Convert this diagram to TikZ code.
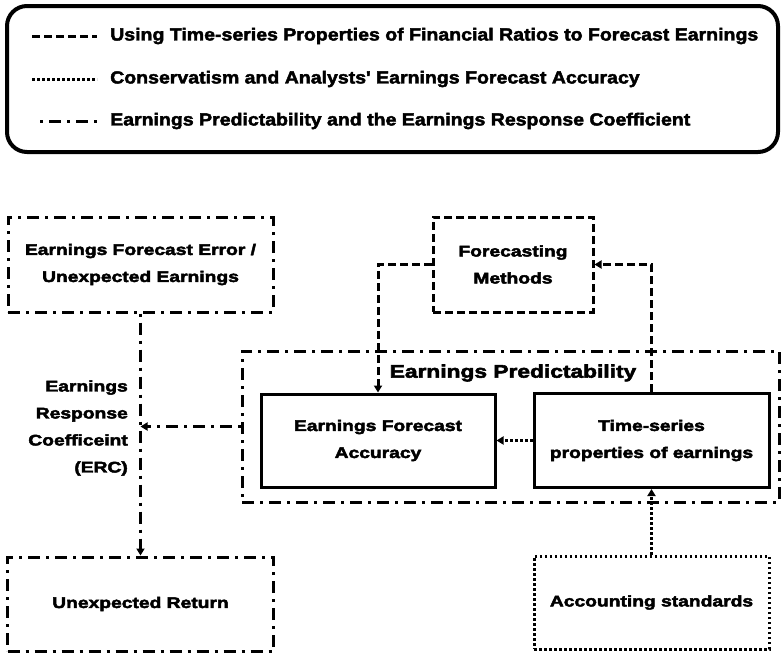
\documentclass[tikz,border=0pt]{standalone}
\usepackage{fontspec}
\setmainfont{Liberation Sans}[FakeStretch=1.25, BoldFeatures={FakeBold=3}]
\newfontfamily\legendfamily{Liberation Sans}[FakeStretch=1.115, BoldFeatures={FakeBold=2.5}]
\usetikzlibrary{arrows.meta}

\newcommand{\boxfont}{\fontsize{15.4pt}{27pt}\selectfont\bfseries}
\newcommand{\titlefont}{\fontsize{18.2pt}{22pt}\selectfont\bfseries}
\newcommand{\keyfont}{\legendfamily\fontsize{17.5pt}{21pt}\selectfont\bfseries}

\tikzstyle{legendbox} = [rectangle, rounded corners=20pt, minimum width=771pt, minimum height=146pt, draw=black, line width=4pt]
\tikzstyle{keytext} = [anchor=west, inner sep=0pt, font=\keyfont]
\tikzstyle{solidbox} = [rectangle, minimum width=235pt, minimum height=93pt, inner sep=0pt, text centered, align=center, draw=black, line width=3pt, font=\boxfont]
\tikzstyle{dashbox} = [solidbox, dash pattern=on 8pt off 4pt]
\tikzstyle{dotbox} = [solidbox, dash pattern=on 2.5pt off 2.5pt]
\tikzstyle{dashdotbox} = [solidbox, dash pattern=on 12pt off 6pt on 3pt off 6pt]
\tikzstyle{dashline} = [line width=3pt, dash pattern=on 8pt off 4pt]
\tikzstyle{dotline} = [line width=3pt, dash pattern=on 2.5pt off 2.5pt]
\tikzstyle{dashdotline} = [line width=3pt, dash pattern=on 3pt off 6pt on 12pt off 6pt]
\tikzstyle{tip} = [-{Triangle[length=7pt,width=8pt]}]

\begin{document}
\begin{tikzpicture}[x=1pt, y=1pt, node distance=120pt]
	\useasboundingbox (0,0) rectangle (782,-654);
	% Legend
	\node [legendbox] (legend) at (392.5,-79) {};
	\node [keytext] (keydash) at (110,-36) {Using Time-series Properties of Financial Ratios to Forecast Earnings};
	\node [keytext] (keydot) at (110,-79) {Conservatism and Analysts' Earnings Forecast Accuracy};
	\node [keytext] (keydashdot) at (110,-121) {Earnings Predictability and the Earnings Response Coefficient};
	\draw [dashline] ([xshift=-78pt]keydash.west) -- ([xshift=-13pt]keydash.west);
	\draw [dotline] ([xshift=-78pt]keydot.west) -- ([xshift=-13pt]keydot.west);
	\draw [dashdotline] ([xshift=-70pt]keydashdot.west) -- ([xshift=-13pt]keydashdot.west);
	% Place nodes
	\node [dashdotbox, below of=legend, xshift=-252pt, yshift=-65.5pt, minimum width=265pt, minimum height=95pt] (errbox) {Earnings Forecast Error /\\Unexpected Earnings};
	\node [dashbox, right of=errbox, xshift=252.5pt, minimum width=160pt, minimum height=95pt] (methods) {Forecasting\\Methods};
	\node [dashdotbox, below of=methods, xshift=-2.5pt, yshift=-42pt, minimum width=537pt, minimum height=151pt] (container) {};
	\node [below of=methods, yshift=11.5pt, font=\titlefont] (title) {Earnings Predictability};
	\node [solidbox, below of=methods, xshift=-135pt, yshift=-56pt, minimum width=234pt] (accuracy) {Earnings Forecast\\Accuracy};
	\node [solidbox, right of=accuracy, xshift=153.5pt, minimum height=94pt] (tsbox) {Time-series\\properties of earnings};
	\node [dashdotbox, below of=errbox, yshift=-219.5pt, minimum width=266pt, minimum height=94pt] (retbox) {Unexpected Return};
	\node [dotbox, below of=tsbox, yshift=-42pt] (stdbox) {Accounting standards};
	\node [left of=accuracy, anchor=east, xshift=-130pt, yshift=12.5pt, align=right, inner sep=0pt, font=\boxfont] (erc) {Earnings\\Response\\Coefficeint\\(ERC)};
	\coordinate (ercjoin) at (container.west -| errbox.south);
	% Draw edges
	\draw [dashline, tip] (methods.west) -| (accuracy.north);
	\draw [dashline, tip] (tsbox.north) |- (methods.east);
	\draw [dotline, tip] (tsbox.west) -- (accuracy.east);
	\draw [dotline, tip] (stdbox.north) -- (tsbox.south);
	\draw [dashdotline, tip] (errbox.south) -- (retbox.north);
	\draw [dashdotline, tip] (container.west) -- (ercjoin);
\end{tikzpicture}
\end{document}
